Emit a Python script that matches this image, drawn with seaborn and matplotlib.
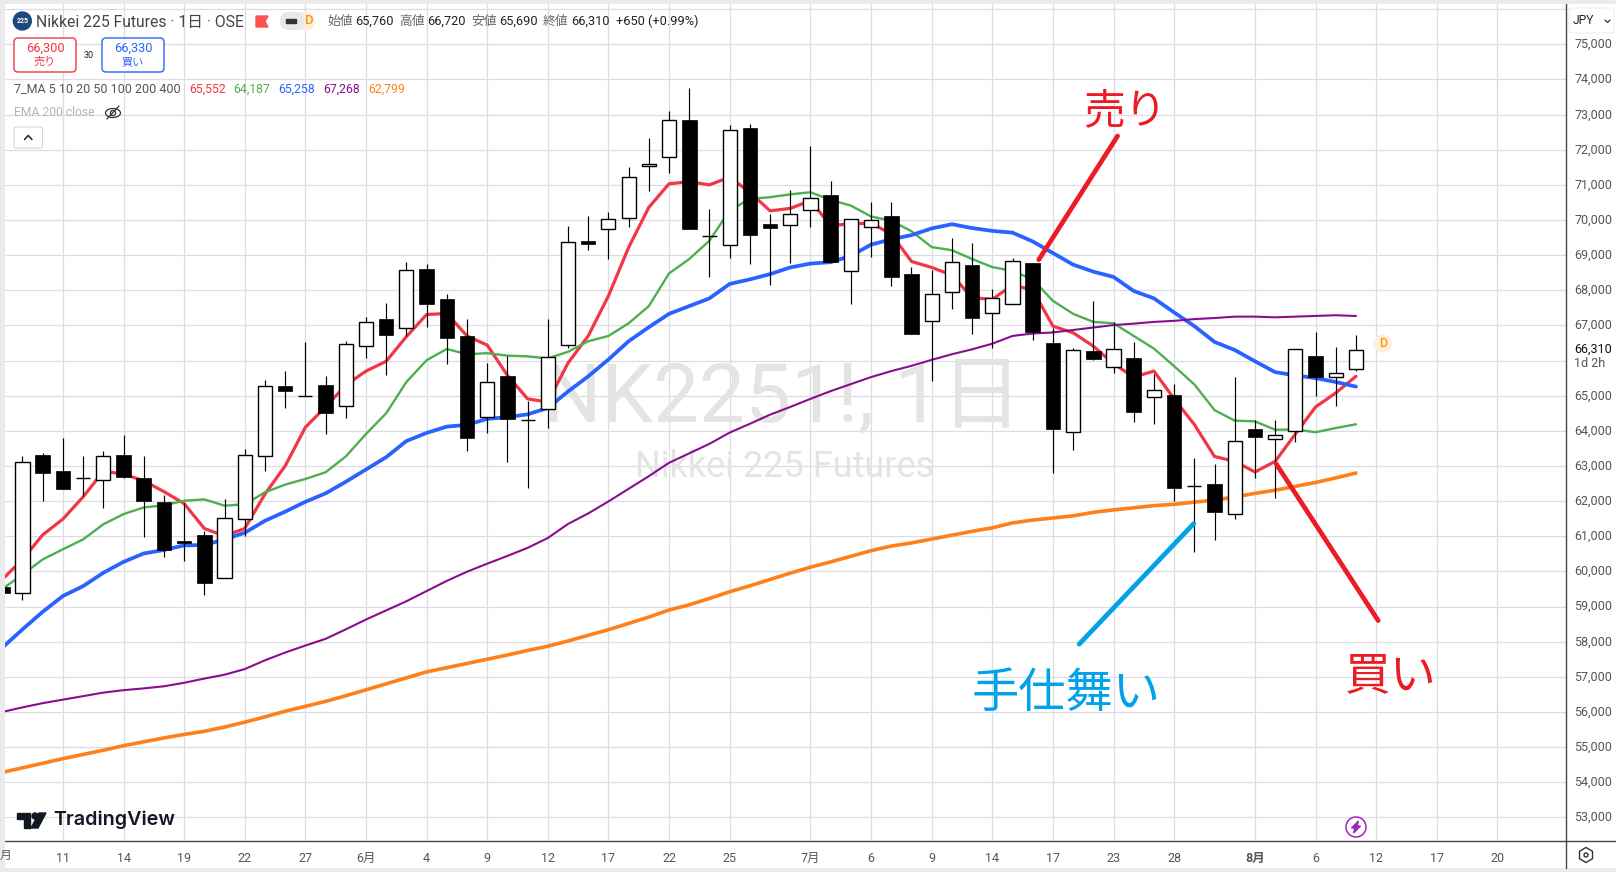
import matplotlib
matplotlib.use('Agg')
import matplotlib.pyplot as plt
from matplotlib.patches import Circle, Ellipse, FancyBboxPatch, Polygon, Rectangle, RegularPolygon
from matplotlib.transforms import ScaledTranslation
import pandas as pd
import seaborn as sns

# daily candles
opens = [59550, 59390, 63320, 62870, 62660, 62600, 63320, 62670, 61980, 60870, 61040, 59800,
         61490, 63280, 65270, 65000, 65300, 64710, 66420, 67180, 66940, 68610, 67750, 66700,
         64400, 65550, 64310, 64610, 66430, 69400, 69740, 70060, 71530, 71800, 72840, 69540,
         69300, 72610, 69890, 69850, 70280, 70700, 68560, 69790, 70100, 68470, 67130, 67960,
         68720, 67360, 67620, 68780, 66500, 63970, 66270, 65820, 66070, 64960, 65010, 62430,
         62500, 61630, 64040, 63770, 64000, 66120, 65540, 65760]
highs = [59650, 63270, 63380, 63810, 63270, 63440, 63870, 63270, 62180, 61960, 61150, 62060,
         63490, 65440, 65690, 66520, 65570, 66550, 67240, 67640, 68810, 68750, 67900, 67180,
         65920, 66120, 64840, 67170, 69840, 70110, 70240, 71520, 72320, 73100, 73770, 70320,
         72700, 72720, 70170, 70840, 72100, 71100, 70030, 70520, 70500, 68670, 68580, 69500,
         69350, 68040, 68920, 68780, 66940, 66370, 67700, 67090, 66520, 65630, 65320, 63240,
         63070, 65520, 64310, 64300, 66340, 66810, 66380, 66720]
lows = [59300, 59190, 62010, 62350, 62150, 61790, 62660, 60990, 60420, 60300, 59320, 59800,
        61010, 62870, 64650, 65000, 63900, 64360, 66070, 65590, 66700, 66960, 65900, 63420,
        63930, 63100, 62360, 64090, 66350, 69160, 68880, 69790, 70820, 71330, 69730, 68390,
        68930, 68760, 68160, 68780, 69810, 68810, 67620, 68960, 68120, 66750, 65420, 67470,
        66750, 66360, 67620, 66590, 62790, 63450, 66010, 65650, 64250, 64190, 62010, 60540,
        60900, 61480, 62650, 62100, 63680, 64990, 64700, 65690]
closes = [59380, 63110, 62810, 62350, 62660, 63290, 62700, 62010, 60610, 60810, 59680, 61510,
          63310, 65290, 65120, 65000, 64520, 66460, 67090, 66730, 68570, 67620, 66650, 63790,
          65400, 64330, 64310, 66090, 69370, 69330, 70030, 71230, 71600, 72860, 69730, 69540,
          72570, 69580, 69760, 70170, 70630, 68810, 70030, 70000, 68380, 66750, 67890, 68800,
          67210, 67770, 68840, 66820, 64050, 66310, 66040, 66340, 64530, 65170, 62360, 62430,
          61680, 63710, 63820, 63890, 66340, 65520, 65660, 66310]

# moving averages
ma_red = [59770, 60340, 61040, 61490, 62120, 62850, 62770, 62580, 62270, 61930, 61220, 61010,
          61220, 62200, 63000, 64100, 64680, 65300, 65700, 65980, 66680, 67310, 67340, 66700,
          66440, 65580, 64910, 64820, 65930, 66700, 67840, 69220, 70360, 71030, 71090, 71000,
          71220, 70790, 70260, 70330, 70550, 69840, 69890, 69910, 69600, 68820, 68650, 68430,
          67790, 67740, 68150, 68010, 66980, 66790, 66410, 65910, 65530, 65700, 64910, 64180,
          63270, 63130, 62830, 63130, 63910, 64680, 65080, 65552]
ma_green = [59500, 59910, 60340, 60630, 60910, 61340, 61630, 61820, 61880, 62010, 62050, 61870,
            61910, 62250, 62470, 62630, 62820, 63270, 63910, 64500, 65390, 66010, 66330, 66180,
            66210, 66140, 66120, 66060, 66250, 66550, 66700, 67060, 67550, 68480, 68890, 69410,
            70270, 70600, 70650, 70730, 70790, 70570, 70410, 70100, 69980, 69680, 69230, 69140,
            68890, 68660, 68550, 68310, 67700, 67330, 67100, 67060, 66700, 66340, 65840, 65320,
            64590, 64290, 64270, 64030, 64040, 63960, 64080, 64187]
ma_blue = [57830, 58350, 58850, 59300, 59580, 59960, 60270, 60510, 60610, 60740, 60750, 60910,
           61100, 61440, 61700, 61980, 62220, 62550, 62900, 63250, 63710, 63940, 64120, 64170,
           64340, 64390, 64470, 64650, 65120, 65550, 66030, 66550, 66950, 67330, 67550, 67770,
           68180, 68310, 68460, 68650, 68760, 68800, 68980, 69300, 69450, 69570, 69760, 69880,
           69770, 69690, 69640, 69390, 69060, 68730, 68530, 68380, 67980, 67770, 67370, 66980,
           66530, 66300, 65980, 65670, 65580, 65500, 65390, 65258]
ma_purple = [56000, 56130, 56250, 56350, 56450, 56550, 56620, 56670, 56730, 56830, 56950, 57060,
             57220, 57470, 57690, 57890, 58080, 58350, 58630, 58890, 59150, 59440, 59730, 59990,
             60220, 60440, 60670, 60950, 61350, 61650, 61990, 62350, 62710, 63090, 63360, 63630,
             63950, 64200, 64460, 64680, 64910, 65130, 65330, 65530, 65700, 65850, 66020, 66180,
             66320, 66480, 66700, 66770, 66800, 66870, 66940, 67010, 67050, 67100, 67130, 67180,
             67210, 67250, 67250, 67230, 67250, 67270, 67290, 67268]
ma_orange = [54280, 54410, 54540, 54670, 54790, 54910, 55040, 55150, 55260, 55360, 55450, 55570,
             55710, 55860, 56020, 56160, 56300, 56460, 56630, 56800, 56970, 57140, 57260, 57380,
             57500, 57620, 57750, 57870, 58020, 58180, 58340, 58520, 58700, 58900, 59050, 59230,
             59420, 59590, 59770, 59950, 60120, 60270, 60430, 60590, 60720, 60810, 60920, 61030,
             61140, 61240, 61380, 61460, 61520, 61580, 61680, 61750, 61810, 61870, 61910, 61970,
             62030, 62120, 62220, 62310, 62420, 62530, 62660, 62799]

# axis labels
x_tick_pos = [3, 6, 9, 12, 15, 18, 21, 24, 27, 30, 33, 36, 40, 43, 46, 49, 52, 55, 58, 62, 65, 68, 71, 74]
x_tick_labels = ['11', '14', '19', '22', '27', '6月', '4', '9', '12', '17', '22', '25',
                 '7月', '6', '9', '14', '17', '23', '28', '8月', '6', '12', '17', '20']
y_ticks = list(range(53000, 77000, 1000))

# hand drawn marks on the chart
sell_x, sell_y = [51.3, 55.2], [68870, 72390]
buy_x, buy_y = [63.05, 68.1], [63060, 58600]
exit_x, exit_y = [58.97, 53.3], [61360, 57930]

ma_lines = [(ma_red, '#f23645', 2.3), (ma_green, '#4caf50', 1.7), (ma_blue, '#2962ff', 2.7),
            (ma_purple, '#880e8e', 1.5), (ma_orange, '#ff8019', 2.6)]

W, H = 1616, 872
sns.set_theme(style='white')
plt.rcParams['font.family'] = ['Roboto', 'Noto Sans CJK JP', 'DejaVu Sans']

fig = plt.figure(figsize=(W / 100, H / 100), dpi=100, facecolor='#ebebeb')

# white strip behind the date labels
bg = fig.add_axes([0, 0, 1, 1], zorder=-1)
bg.set_xlim(0, W)
bg.set_ylim(H, 0)
bg.axis('off')
bg.add_patch(Rectangle((5, 840), W - 5, 28, color='white', linewidth=0))
bg.add_patch(Rectangle((1565, 4), W - 1565, 840, color='white', linewidth=0))

ax = fig.add_axes([5 / W, 1 - 840.7 / H, 1560.7 / W, 836.7 / H])
ax.set_facecolor('white')

# overlay in pixel coordinates for the toolbar parts of the screenshot
ui = fig.add_axes([0, 0, 1, 1], zorder=5)
ui.set_xlim(0, W)
ui.set_ylim(H, 0)
ui.axis('off')
ui.patch.set_alpha(0)

df = pd.DataFrame({'i': range(len(opens)), 'open': opens, 'high': highs, 'low': lows, 'close': closes})

for values, color, width in ma_lines:
    sns.lineplot(x=df['i'], y=values, color=color, linewidth=width, ax=ax, zorder=3, legend=False, errorbar=None)

ax.vlines(df['i'], df['low'], df['high'], color='black', linewidth=0.85, zorder=4)
down = df[df['close'] < df['open']]
up = df[df['close'] >= df['open']]
ax.bar(down['i'], down['close'] - down['open'], bottom=down['open'], width=0.72,
       color='black', edgecolor='black', linewidth=0.5, zorder=5)
ax.bar(up['i'], up['close'] - up['open'], bottom=up['open'], width=0.7,
       color='white', edgecolor='black', linewidth=1.0, zorder=5)

ax.plot(sell_x, sell_y, color='#ed1c24', linewidth=3.4, zorder=6)
ax.plot(buy_x, buy_y, color='#ed1c24', linewidth=3.4, zorder=6)
ax.plot(exit_x, exit_y, color='#00a2e8', linewidth=3.4, zorder=6)

ax.set_xlim(0.134, 77.38)
ax.set_ylim(52336, 76147)
ax.set_xlabel('')
ax.set_ylabel('')
ax.set_xticks(x_tick_pos)
ax.set_xticklabels(x_tick_labels, color='#555555', fontsize=9)
ax.get_xticklabels()[19].set_fontweight('bold')
ax.yaxis.tick_right()
ax.set_yticks(y_ticks)
ax.set_yticklabels(['' if v in (66000, 76000) else f'{v:,}' for v in y_ticks], color='#555555', fontsize=9)
ax.tick_params(axis='x', length=0, pad=8)
ax.tick_params(axis='y', length=0, pad=6)
ax.grid(True, color='#dcdce6', linewidth=0.9)
ax.set_axisbelow(True)
sns.despine(ax=ax, left=True, top=True, right=True, bottom=True)

# price labels sit a little above their grid line
label_shift = ScaledTranslation(0, 1.3 / 100, fig.dpi_scale_trans)
for label in ax.get_yticklabels():
    label.set_transform(label.get_transform() + label_shift)

# watermark sits under the candles
ax.text(783, 400, 'NK2251!, 1日', transform=ui.transData, color='#e4e4e4', fontsize=59,
        ha='center', va='center', zorder=1)
ax.text(785, 467, 'Nikkei 225 Futures', transform=ui.transData, color='#e4e4e4', fontsize=26,
        ha='center', va='center', zorder=1)

# hand written labels
ui.text(1125, 112, '売り', color='#ed1c24', fontsize=30, ha='center', va='center')
ui.text(1391, 676, '買い', color='#ed1c24', fontsize=33, ha='center', va='center')
ui.text(1066, 694, '手仕舞い', color='#00a2e8', fontsize=34, ha='center', va='center')

# frame lines
ui.plot([5, W], [840.7, 840.7], color='#444444', linewidth=1.0)
ui.plot([1565.7, 1565.7], [4, 868], color='#444444', linewidth=1.0)
month_stub = ui.text(0, 855, '月', color='#555555', fontsize=8.5, ha='left', va='center')
month_stub.set_clip_path(Rectangle((5, 841), 20, 26, transform=ui.transData))

# header row
ui.add_patch(Circle((22.3, 21), 9, color='#1c4a7c'))
ui.text(22.3, 21, '225', color='white', fontsize=5, ha='center', va='center', fontweight='bold')
ui.text(36.5, 22, 'Nikkei 225 Futures · 1日 · OSE', color='#444444', fontsize=11.3, va='center')
ui.add_patch(Polygon([(256, 16), (268, 16), (265, 21.5), (268, 27), (256, 27)], color='#ff5252'))
ui.add_patch(FancyBboxPatch((285, 12), 30, 18, boxstyle='round,pad=0,rounding_size=9',
                            color='#fdeedd', linewidth=0))
ui.add_patch(FancyBboxPatch((280, 12), 24, 18, boxstyle='round,pad=0,rounding_size=9', color='#e8e8e8', linewidth=0))
ui.add_patch(Rectangle((286, 19.5), 10, 3.5, color='#333333'))
ui.text(309, 21, 'D', color='#ff9800', fontsize=9.5, ha='center', va='center', fontweight='medium')

ohlc_names = ['始値', '高値', '安値', '終値']
ohlc_values = ['65,760', '66,720', '65,690', '66,310']
ohlc_pos = [327, 399, 471, 543]
for name, value, px in zip(ohlc_names, ohlc_values, ohlc_pos):
    ui.text(px, 21, name, color='#666666', fontsize=9.2, va='center')
    ui.text(px + 28, 21, value, color='#222222', fontsize=9.2, va='center')
ui.text(616, 21, '+650 (+0.99%)', color='#222222', fontsize=9.2, va='center')

# sell / buy boxes
ui.add_patch(FancyBboxPatch((14, 38), 62, 34, boxstyle='round,pad=0,rounding_size=4', facecolor='white',
                            edgecolor='#f23645', linewidth=1))
ui.text(45, 48, '66,300', color='#f23645', fontsize=9.2, ha='center', va='center')
ui.text(45, 62, '売り', color='#f23645', fontsize=8, ha='center', va='center')
ui.text(89, 55, '30', color='#222222', fontsize=6.5, ha='center', va='center')
ui.add_patch(FancyBboxPatch((102, 38), 62, 34, boxstyle='round,pad=0,rounding_size=4', facecolor='white',
                            edgecolor='#2962ff', linewidth=1))
ui.text(133, 48, '66,330', color='#2962ff', fontsize=9.2, ha='center', va='center')
ui.text(133, 62, '買い', color='#2962ff', fontsize=8, ha='center', va='center')

# indicator legend
ui.text(14.3, 89, '7_MA 5 10 20 50 100 200 400', color='#555555', fontsize=9, va='center')
legend_values = ['65,552', '64,187', '65,258', '67,268', '62,799']
legend_pos = [189, 233.5, 278.6, 323, 368]
for text, px, line in zip(legend_values, legend_pos, ma_lines):
    ui.text(px, 89, text, color=line[1], fontsize=8.8, va='center')
ui.text(14.3, 113, 'EMA 200 close', color='#b2b5be', fontsize=8.7, va='center')
ui.add_patch(Ellipse((113, 113), 15, 9, facecolor='none', edgecolor='#333333', linewidth=0.9))
ui.add_patch(Circle((113, 113), 2.6, facecolor='none', edgecolor='#333333', linewidth=0.9))
ui.plot([107, 119], [119, 106], color='#333333', linewidth=0.9)
ui.add_patch(FancyBboxPatch((14, 127), 28.5, 21, boxstyle='round,pad=0,rounding_size=2', facecolor='white',
                            edgecolor='#d6d6d6', linewidth=0.8))
ui.plot([24.5, 28.2, 32], [139.5, 135.5, 139.5], color='#222222', linewidth=1.1)

# price scale extras
ui.add_patch(FancyBboxPatch((1569, 8), 45, 25, boxstyle='round,pad=0,rounding_size=3', facecolor='white',
                            edgecolor='#eeeeee', linewidth=0.8))
ui.text(1573, 20.5, 'JPY', color='#222222', fontsize=8.7, va='center')
ui.plot([1605, 1607.5, 1610], [20, 22.5, 20], color='#333333', linewidth=0.9)
ui.add_patch(Rectangle((1570, 340), 44, 32, color='white'))
ui.text(1574, 349, '66,310', color='#111111', fontsize=9, va='center')
ui.text(1574, 363, '1d 2h', color='#555555', fontsize=9, va='center')
ui.add_patch(Circle((1382.7, 343.7), 8.5, color='#fff0dd'))
ui.text(1382.7, 343.7, 'D', color='#ff9800', fontsize=9, ha='center', va='center', fontweight='medium')

# bottom icons
ui.add_patch(Circle((1356, 827), 10, facecolor='white', edgecolor='#9c27b0', linewidth=1.1))
ui.add_patch(Polygon([(1358.5, 821), (1351.5, 828), (1355, 828), (1353.5, 833), (1360.5, 826), (1357, 826)],
                     color='#9c27b0'))
ui.add_patch(RegularPolygon((1586, 855), 6, radius=7.5, orientation=0, facecolor='none',
                            edgecolor='#333333', linewidth=1))
ui.add_patch(Circle((1586, 855), 2, facecolor='none', edgecolor='#333333', linewidth=1))

# TradingView logo
ui.add_patch(Polygon([(17, 813), (30, 813), (30, 828), (24, 828), (24, 819), (17, 819)], color='#131722'))
ui.add_patch(Circle((35, 816), 3, color='#131722'))
ui.add_patch(Polygon([(39, 813), (46, 813), (38, 828), (31, 828)], color='#131722'))
ui.text(53, 820, 'TradingView', family='Inter', color='#131722', fontsize=14.2, va='center', fontweight='semibold')

fig.savefig('out.png', dpi=100, facecolor=fig.get_facecolor())
